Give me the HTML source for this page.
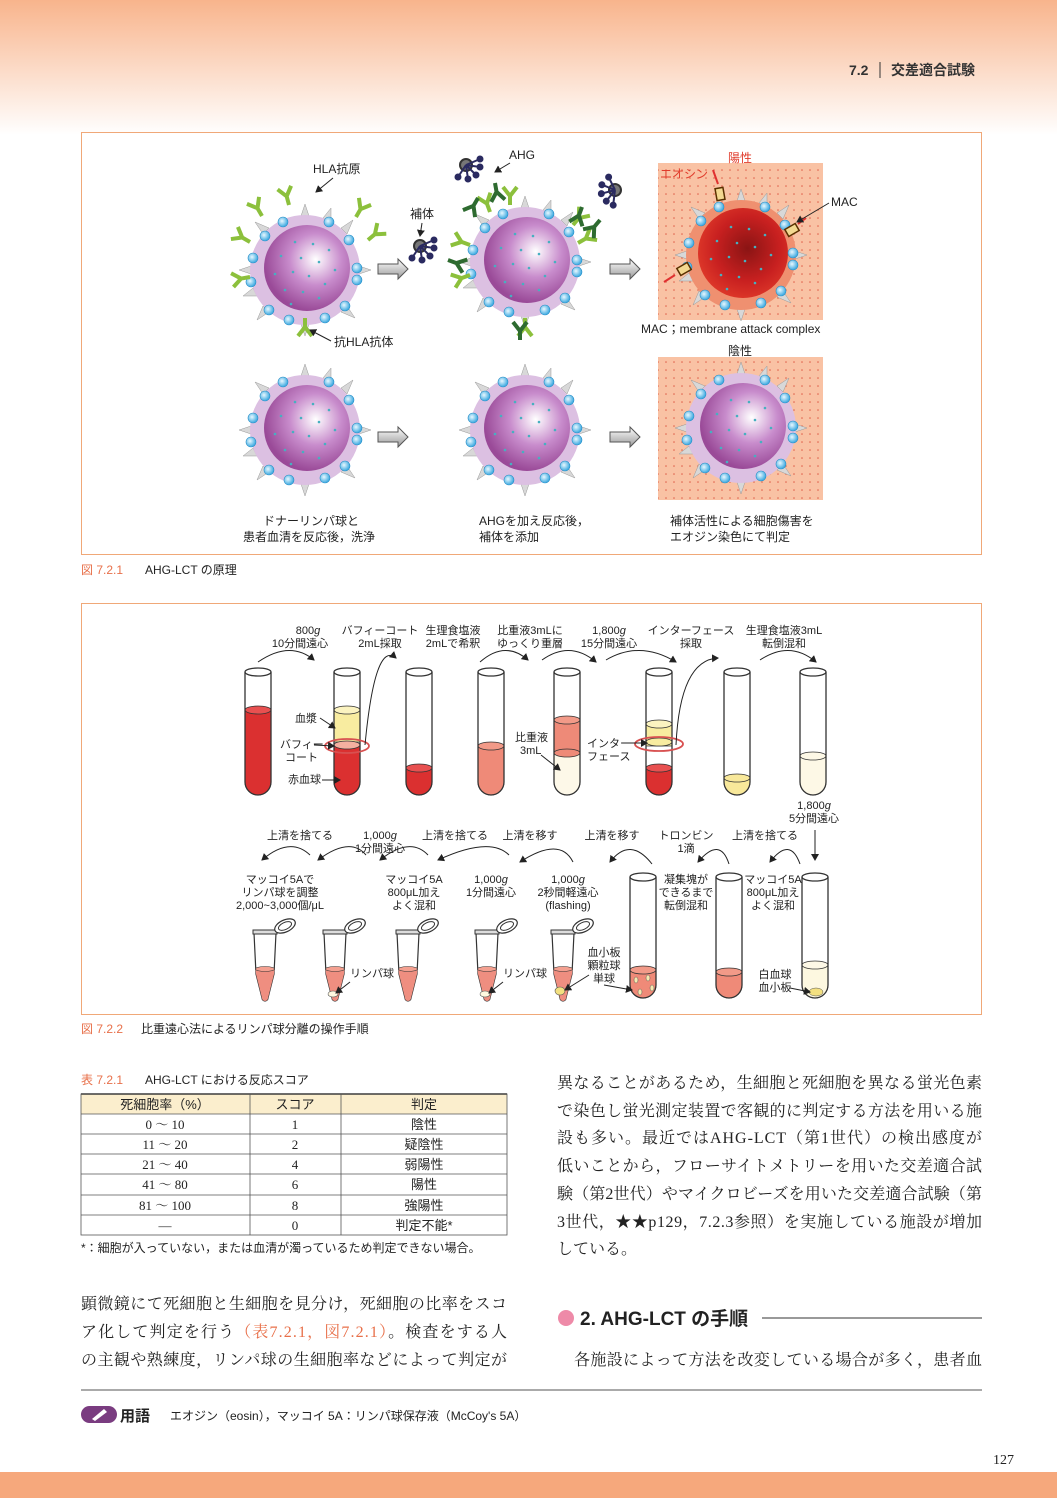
<!DOCTYPE html>
<html><head><meta charset="utf-8"><style>
html,body{margin:0;padding:0;background:#fff}
svg{display:block}
.s{font-family:"Liberation Sans","Noto Sans CJK JP",sans-serif}
.m{font-family:"Liberation Serif","Noto Serif CJK SC",serif}
</style></head><body>
<svg width="1057" height="1498" viewBox="0 0 1057 1498" xmlns="http://www.w3.org/2000/svg" class="s">
<defs>
<linearGradient id="hd" x1="0" y1="0" x2="0" y2="1">
<stop offset="0" stop-color="#f8b48c"/><stop offset="1" stop-color="#ffffff"/></linearGradient>
<radialGradient id="pb" cx="0.6" cy="0.4" r="0.6"><stop offset="0" stop-color="#ffffff"/><stop offset="0.5" stop-color="#c88ccc"/><stop offset="1" stop-color="#9a4a98"/></radialGradient>
<radialGradient id="rb" cx="0.55" cy="0.45" r="0.6"><stop offset="0" stop-color="#8a1414"/><stop offset="0.6" stop-color="#c82020"/><stop offset="1" stop-color="#e03a2a"/></radialGradient>
<radialGradient id="bd" cx="0.4" cy="0.4" r="0.6"><stop offset="0" stop-color="#e8f8ff"/><stop offset="1" stop-color="#3aa8e0"/></radialGradient>
<linearGradient id="ar" x1="0" y1="0" x2="0" y2="1"><stop offset="0" stop-color="#fff"/><stop offset="1" stop-color="#999"/></linearGradient>
<pattern id="dots" width="8" height="8" patternUnits="userSpaceOnUse"><rect width="8" height="8" fill="#f9c2a4"/><circle cx="2" cy="2" r="0.8" fill="#e0604a"/></pattern>
<g id="spk" fill="#d8d8d8" stroke="#999" stroke-width="0.5">
<polygon points="-4,-54 4,-54 0,-66"/><polygon points="-4,54 4,54 0,66"/>
<polygon points="54,-4 54,4 66,0"/><polygon points="-54,-4 -54,4 -66,0"/>
<polygon points="36,-42 42,-36 48,-50"/><polygon points="-36,42 -42,36 -48,50"/>
<polygon points="-36,-42 -42,-36 -50,-48"/><polygon points="36,42 42,36 50,48"/>
<polygon points="18,-52 26,-48 26,-62"/><polygon points="-52,18 -48,26 -62,26"/>
</g>
<g id="bds" fill="url(#bd)" stroke="#2a90c8" stroke-width="0.6">
<circle cx="-40" cy="-34" r="5"/><circle cx="-22" cy="-48" r="5"/><circle cx="24" cy="-48" r="5"/><circle cx="44" cy="-30" r="5"/>
<circle cx="-52" cy="-12" r="5"/><circle cx="-54" cy="12" r="5"/><circle cx="52" cy="10" r="5"/><circle cx="52" cy="-2" r="5"/>
<circle cx="-36" cy="40" r="5"/><circle cx="-16" cy="50" r="5"/><circle cx="20" cy="48" r="5"/><circle cx="40" cy="36" r="5"/>
</g>
<g id="idots" fill="#46b0c0">
<circle cx="-10" cy="-28" r="1.3"/><circle cx="8" cy="-26" r="1.3"/><circle cx="24" cy="-20" r="1.3"/><circle cx="-24" cy="-14" r="1.3"/><circle cx="-4" cy="-12" r="1.3"/><circle cx="14" cy="-8" r="1.3"/><circle cx="30" cy="0" r="1.3"/><circle cx="-30" cy="4" r="1.3"/><circle cx="-12" cy="2" r="1.3"/><circle cx="4" cy="6" r="1.3"/><circle cx="20" cy="14" r="1.3"/><circle cx="-20" cy="20" r="1.3"/><circle cx="-2" cy="22" r="1.3"/><circle cx="14" cy="28" r="1.3"/><circle cx="-14" cy="34" r="1.3"/>
</g>
<g id="cell"><use href="#spk"/><circle r="55" fill="#dcc0e2"/><circle cx="2" cy="-2" r="43" fill="url(#pb)"/><use href="#idots"/><use href="#bds"/></g>
<g id="rcell"><use href="#spk"/><circle r="55" fill="#ef9070"/><circle cx="2" cy="-2" r="45" fill="url(#rb)"/><use href="#idots" fill="#e8a0a0"/><use href="#bds"/></g>
<g id="Yl" stroke="#8cc03c" stroke-width="4" fill="none"><path d="M0,0 L0,-9 M0,-9 L-7,-18 M0,-9 L7,-18"/></g>
<g id="Yd" stroke="#2e6b30" stroke-width="4" fill="none"><path d="M0,0 L0,-9 M0,-9 L-7,-18 M0,-9 L7,-18"/></g>
<g id="cmp" stroke="#2a2a60" stroke-width="2" fill="#2a2a60"><circle r="6" fill="#777" stroke="#333"/><path d="M0,0 L14,-6 M0,0 L14,2 M0,0 L10,10 M0,0 L2,14 M0,0 L-8,12" fill="none"/><circle cx="14" cy="-6" r="2.5"/><circle cx="14" cy="2" r="2.5"/><circle cx="10" cy="10" r="2.5"/><circle cx="2" cy="14" r="2.5"/><circle cx="-8" cy="12" r="2.5"/></g>
<g id="bar"><path d="M0,-5 L20,-5 L20,-10 L30,0 L20,10 L20,5 L0,5 Z" fill="url(#ar)" stroke="#555" stroke-width="1"/></g>
<g id="tube" fill="none" stroke="#333" stroke-width="1.3"><path d="M-13,4 L-13,114 A13,13 0 0 0 13,114 L13,4"/><ellipse cx="0" cy="4" rx="13" ry="4"/></g>
<g id="btube" fill="none" stroke="#333" stroke-width="1.3"><path d="M-13,4 L-13,112 A13,13 0 0 0 13,112 L13,4"/><ellipse cx="0" cy="4" rx="13" ry="4"/></g>
<g id="ep"><path d="M-11,-1 L-9,40 L-3,64 A3,3 0 0 0 3,64 L9,40 L11,-1" fill="none" stroke="#333" stroke-width="1.2"/><path d="M-9.5,35 L-9,40 L-3,64 A3,3 0 0 0 3,64 L9,40 L9.5,35 Z" fill="#ef8e80"/><ellipse cx="0" cy="35" rx="9.5" ry="2.5" fill="#f4a090" stroke="#333" stroke-width="0.6"/><rect x="-12" y="-4" width="24" height="4" fill="#ddd" stroke="#333" stroke-width="1"/><ellipse cx="20" cy="-8" rx="11" ry="6" transform="rotate(-25 20 -8)" fill="#fff" stroke="#333" stroke-width="1.2"/><ellipse cx="20" cy="-8" rx="7" ry="3.5" transform="rotate(-25 20 -8)" fill="none" stroke="#333" stroke-width="1"/></g>
<marker id="ah" markerWidth="8" markerHeight="8" refX="6" refY="4" orient="auto" markerUnits="userSpaceOnUse"><path d="M0,0 L7,4 L0,8 Z" fill="#222"/></marker>
</defs>

<rect x="0" y="0" width="1057" height="135" fill="url(#hd)"/>
<text x="849" y="75" font-size="14" font-weight="bold" fill="#333">7.2</text>
<line x1="880" y1="62" x2="880" y2="78" stroke="#333" stroke-width="1"/>
<text x="891" y="75" font-size="14" font-weight="bold" fill="#333">交差適合試験</text>

<!-- Figure 1 -->
<rect x="81.5" y="132.5" width="900" height="422" fill="none" stroke="#f0a878" stroke-width="1"/>
<rect x="658" y="163" width="165" height="157" fill="url(#dots)"/>
<rect x="658" y="357" width="165" height="143" fill="url(#dots)"/>
<use href="#cell" x="305" y="270"/>
<use href="#cell" x="525" y="262"/>
<use href="#rcell" x="741" y="255"/>
<use href="#cell" x="305" y="430"/>
<use href="#cell" x="525" y="430"/>
<use href="#cell" x="741" y="428"/>
<use href="#Yl" x="289" y="205" transform="rotate(-15 289 205)"/>
<use href="#Yl" x="262" y="216" transform="rotate(-30 262 216)"/>
<use href="#Yl" x="356" y="217" transform="rotate(30 356 217)"/>
<use href="#Yl" x="368" y="240" transform="rotate(50 368 240)"/>
<use href="#Yl" x="250" y="242" transform="rotate(-60 250 242)"/>
<use href="#Yl" x="250" y="277" transform="rotate(-100 250 277)"/>
<use href="#Yl" x="305" y="318" transform="rotate(180 305 318)"/>
<use href="#Yl" x="490" y="212" transform="rotate(-20 490 212)"/>
<use href="#Yd" x="478" y="198" transform="rotate(-150 478 198)"/>
<use href="#Yl" x="510" y="205"/>
<use href="#Yd" x="495" y="183" transform="rotate(170 495 183)"/>
<use href="#Yl" x="573" y="225" transform="rotate(40 573 225)"/>
<use href="#Yd" x="582" y="207" transform="rotate(200 582 207)"/>
<use href="#Yl" x="578" y="243" transform="rotate(60 578 243)"/>
<use href="#Yd" x="600" y="220" transform="rotate(220 600 220)"/>
<use href="#Yl" x="470" y="245" transform="rotate(-70 470 245)"/>
<use href="#Yd" x="448" y="260" transform="rotate(110 448 260)"/>
<use href="#Yl" x="470" y="275" transform="rotate(-110 470 275)"/>
<use href="#Yl" x="525" y="318" transform="rotate(180 525 318)"/>
<use href="#Yd" x="520" y="340"/>
<use href="#cmp" x="466" y="165"/>
<use href="#cmp" x="615" y="190" transform="rotate(120 615 190)"/>
<use href="#cmp" x="420" y="246"/>
<g fill="#f3d890" stroke="#5a3000" stroke-width="1.5">
<rect x="716" y="188" width="8" height="12" transform="rotate(-10 720 194)"/>
<rect x="788" y="224" width="8" height="12" transform="rotate(60 792 230)"/>
<rect x="680" y="263" width="8" height="12" transform="rotate(60 684 269)"/>
</g>
<g stroke="#e03030" stroke-width="2" fill="#e03030">
<line x1="713" y1="170" x2="718" y2="184"/><line x1="806" y1="218" x2="798" y2="224"/><line x1="664" y1="282" x2="675" y2="275"/>
</g>
<line x1="829" y1="203" x2="797" y2="222" stroke="#222" stroke-width="1" marker-end="url(#ah)"/>
<text x="831" y="206" font-size="12" fill="#222">MAC</text>
<text x="660" y="178" font-size="12" fill="#e03a2a">エオシン</text>
<text x="728" y="162" font-size="12" fill="#e03a2a">陽性</text>
<text x="728" y="355" font-size="12" fill="#222">陰性</text>
<text x="641" y="333" font-size="12" fill="#222">MAC；membrane attack complex</text>
<use href="#bar" x="378" y="269"/><use href="#bar" x="610" y="269"/>
<use href="#bar" x="378" y="437"/><use href="#bar" x="610" y="437"/>
<text x="313" y="173" font-size="12" fill="#222">HLA抗原</text>
<line x1="333" y1="178" x2="316" y2="192" stroke="#222" stroke-width="1" marker-end="url(#ah)"/>
<text x="334" y="346" font-size="12" fill="#222">抗HLA抗体</text>
<line x1="331" y1="341" x2="310" y2="330" stroke="#222" stroke-width="1" marker-end="url(#ah)"/>
<text x="509" y="159" font-size="12" fill="#222">AHG</text>
<line x1="510" y1="163" x2="495" y2="172" stroke="#222" stroke-width="1" marker-end="url(#ah)"/>
<text x="410" y="218" font-size="12" fill="#222">補体</text>
<line x1="422" y1="223" x2="420" y2="236" stroke="#222" stroke-width="1" marker-end="url(#ah)"/>
<text x="263" y="525" font-size="12" fill="#222">ドナーリンパ球と</text>
<text x="243" y="541" font-size="12" fill="#222">患者血清を反応後，洗浄</text>
<text x="479" y="525" font-size="12" fill="#222">AHGを加え反応後，</text>
<text x="479" y="541" font-size="12" fill="#222">補体を添加</text>
<text x="670" y="525" font-size="12" fill="#222">補体活性による細胞傷害を</text>
<text x="670" y="541" font-size="12" fill="#222">エオジン染色にて判定</text>
<text x="81" y="574" font-size="12" fill="#e8704a">図 7.2.1</text>
<text x="145" y="574" font-size="12" fill="#222">AHG-LCT の原理</text>

<!-- Figure 2 -->
<rect x="81.5" y="603.5" width="900" height="411" fill="none" stroke="#f0a878" stroke-width="1"/>
<g font-size="11" fill="#222" text-anchor="middle">
<text x="308" y="634">800<tspan font-style="italic">g</tspan></text><text x="300" y="647">10分間遠心</text>
<text x="380" y="634">バフィーコート</text><text x="380" y="647">2mL採取</text>
<text x="453" y="634">生理食塩液</text><text x="453" y="647">2mLで希釈</text>
<text x="530" y="634">比重液3mLに</text><text x="530" y="647">ゆっくり重層</text>
<text x="609" y="634">1,800<tspan font-style="italic">g</tspan></text><text x="609" y="647">15分間遠心</text>
<text x="691" y="634">インターフェース</text><text x="691" y="647">採取</text>
<text x="784" y="634">生理食塩液3mL</text><text x="784" y="647">転倒混和</text>
<text x="814" y="809">1,800<tspan font-style="italic">g</tspan></text><text x="814" y="822">5分間遠心</text>
<text x="300" y="839">上清を捨てる</text>
<text x="380" y="839">1,000<tspan font-style="italic">g</tspan></text><text x="380" y="852">1分間遠心</text>
<text x="455" y="839">上清を捨てる</text>
<text x="530" y="839">上清を移す</text>
<text x="612" y="839">上清を移す</text>
<text x="686" y="839">トロンビン</text><text x="686" y="852">1滴</text>
<text x="765" y="839">上清を捨てる</text>
<text x="280" y="883">マッコイ5Aで</text><text x="280" y="896">リンパ球を調整</text><text x="280" y="909">2,000~3,000個/μL</text>
<text x="414" y="883">マッコイ5A</text><text x="414" y="896">800μL加え</text><text x="414" y="909">よく混和</text>
<text x="491" y="883">1,000<tspan font-style="italic">g</tspan></text><text x="491" y="896">1分間遠心</text>
<text x="568" y="883">1,000<tspan font-style="italic">g</tspan></text><text x="568" y="896">2秒間軽遠心</text><text x="568" y="909">(flashing)</text>
<text x="686" y="883">凝集塊が</text><text x="686" y="896">できるまで</text><text x="686" y="909">転倒混和</text>
<text x="773" y="883">マッコイ5A</text><text x="773" y="896">800μL加え</text><text x="773" y="909">よく混和</text>
<text x="604" y="956">血小板</text><text x="604" y="969">顆粒球</text><text x="604" y="982">単球</text>
<text x="775" y="978">白血球</text><text x="775" y="991">血小板</text>
</g>
<g font-size="11" fill="#222">
<text x="295" y="722">血漿</text><text x="280" y="748">バフィー</text><text x="285" y="761">コート</text><text x="288" y="783">赤血球</text>
<text x="515" y="741">比重液</text><text x="520" y="754">3mL</text>
<text x="587" y="747">インター</text><text x="587" y="760">フェース</text>
<text x="350" y="977">リンパ球</text><text x="503" y="977">リンパ球</text>
</g>
<g stroke="#333" stroke-width="0.8">
<path d="M245,710 L245,782 A13,13 0 0 0 271,782 L271,710 Z" fill="#db3030"/><ellipse cx="258" cy="710" rx="13" ry="4" fill="#e85050"/>
<path d="M334,710 L334,742 L360,742 L360,710 Z" fill="#f8eca0"/><ellipse cx="347" cy="710" rx="13" ry="4" fill="#fbf3c0"/>
<path d="M334,746 L334,782 A13,13 0 0 0 360,782 L360,746 Z" fill="#db3030"/><ellipse cx="347" cy="745" rx="13" ry="4" fill="#f4b0a0"/>
<path d="M406,768 L406,782 A13,13 0 0 0 432,782 L432,768 Z" fill="#db3030"/><ellipse cx="419" cy="768" rx="13" ry="4" fill="#e85050"/>
<path d="M478,746 L478,782 A13,13 0 0 0 504,782 L504,746 Z" fill="#ef8a78"/><ellipse cx="491" cy="746" rx="13" ry="4" fill="#f29a88"/>
<path d="M554,753 L554,782 A13,13 0 0 0 580,782 L580,753 Z" fill="#fdf8e8"/>
<path d="M554,720 L554,753 L580,753 L580,720 Z" fill="#ee8a78"/><ellipse cx="567" cy="720" rx="13" ry="4" fill="#f29a88"/><ellipse cx="567" cy="753" rx="13" ry="4" fill="#ee8a78"/>
<path d="M646,724 L646,746 L672,746 L672,724 Z" fill="#f8eca0"/><ellipse cx="659" cy="724" rx="13" ry="4" fill="#fbf3c0"/><ellipse cx="659" cy="742" rx="13" ry="4" fill="#f8eca0"/>
<path d="M646,768 L646,782 A13,13 0 0 0 672,782 L672,768 Z" fill="#db3030"/><ellipse cx="659" cy="768" rx="13" ry="4" fill="#e85050"/>
<path d="M724,778 L724,782 A13,13 0 0 0 750,782 L750,778 Z" fill="#f8e89a"/><ellipse cx="737" cy="778" rx="13" ry="4" fill="#f8e89a"/>
<path d="M800,756 L800,782 A13,13 0 0 0 826,782 L826,756 Z" fill="#fdf8e6"/><ellipse cx="813" cy="756" rx="13" ry="4" fill="#fdf8e6"/>
</g>
<use href="#tube" x="258" y="668"/><use href="#tube" x="347" y="668"/><use href="#tube" x="419" y="668"/><use href="#tube" x="491" y="668"/>
<use href="#tube" x="567" y="668"/><use href="#tube" x="659" y="668"/><use href="#tube" x="737" y="668"/><use href="#tube" x="813" y="668"/>
<ellipse cx="347" cy="746" rx="22" ry="7" fill="none" stroke="#d85050" stroke-width="1.8"/>
<ellipse cx="659" cy="744" rx="24" ry="7" fill="none" stroke="#d85050" stroke-width="1.8"/>
<g stroke="#333" stroke-width="0.8">
<path d="M630,970 L630,985 A13,13 0 0 0 656,985 L656,970 Z" fill="#ef8a78"/><ellipse cx="643" cy="970" rx="13" ry="4" fill="#f29a88"/>
<path d="M716,972 L716,985 A13,13 0 0 0 742,985 L742,972 Z" fill="#ef8a78"/><ellipse cx="729" cy="972" rx="13" ry="4" fill="#f29a88"/>
<path d="M802,965 L802,985 A13,13 0 0 0 828,985 L828,965 Z" fill="#fdf8e0"/><ellipse cx="815" cy="965" rx="13" ry="4" fill="#fdf8e6"/>
</g>
<g fill="#f8e8b0" stroke="#555" stroke-width="0.5"><ellipse cx="636" cy="980" rx="2" ry="3"/><ellipse cx="648" cy="978" rx="2" ry="3"/><ellipse cx="640" cy="992" rx="2" ry="3"/><ellipse cx="652" cy="988" rx="2" ry="3"/><ellipse cx="816" cy="992" rx="7" ry="4" fill="#f3e080"/></g>
<use href="#btube" x="643" y="873"/><use href="#btube" x="729" y="873"/><use href="#btube" x="815" y="873"/>
<use href="#ep" x="265" y="934"/><use href="#ep" x="335" y="934"/><use href="#ep" x="408" y="934"/><use href="#ep" x="487" y="934"/><use href="#ep" x="563" y="934"/>
<g fill="#fff8e0" stroke="#555" stroke-width="0.6"><ellipse cx="333" cy="994" rx="5" ry="3"/><ellipse cx="485" cy="994" rx="5" ry="3"/><ellipse cx="560" cy="991" rx="5" ry="4" fill="#f3e080"/></g>
<g fill="none" stroke="#222" stroke-width="1" marker-end="url(#ah)">
<path d="M258,662 Q290,640 314,660"/><path d="M365,745 Q375,640 396,658"/>
<path d="M480,662 Q505,640 528,660"/><path d="M542,660 Q570,640 596,662"/><path d="M606,660 Q640,640 676,662"/>
<path d="M676,745 Q680,660 718,658"/><path d="M760,660 Q790,640 816,662"/>
<line x1="815" y1="830" x2="815" y2="860"/>
<path d="M310,855 Q290,836 262,860"/><path d="M366,855 Q350,836 318,860"/><path d="M428,855 Q410,836 380,860"/><path d="M509,855 Q490,836 438,860"/>
<path d="M573,862 Q560,836 520,862" /><path d="M652,864 Q630,836 610,862"/><path d="M729,864 Q720,836 698,862"/><path d="M800,864 Q790,836 770,862"/>
<line x1="320" y1="718" x2="335" y2="728"/><line x1="314" y1="745" x2="334" y2="746"/><line x1="322" y1="780" x2="340" y2="780"/>
<line x1="541" y1="755" x2="560" y2="770"/><line x1="625" y1="743" x2="647" y2="743"/>
<line x1="350" y1="982" x2="336" y2="993"/><line x1="503" y1="982" x2="489" y2="993"/><line x1="589" y1="975" x2="565" y2="990"/>
<line x1="604" y1="985" x2="632" y2="990"/><line x1="790" y1="988" x2="810" y2="992"/>
</g>
<text x="81" y="1033" font-size="12" fill="#e8704a">図 7.2.2</text>
<text x="141" y="1033" font-size="12" fill="#222">比重遠心法によるリンパ球分離の操作手順</text>

<text x="81" y="1084" font-size="12" fill="#e8704a">表 7.2.1</text>
<text x="145" y="1084" font-size="12" fill="#222">AHG-LCT における反応スコア</text>
<rect x="81" y="1094" width="426" height="20" fill="#fbeecd"/>
<line x1="81" y1="1094" x2="507" y2="1094" stroke="#222" stroke-width="1.5"/>
<g stroke="#555" stroke-width="0.8" fill="none">
<rect x="81" y="1094" width="426" height="141"/>
<line x1="81" y1="1114" x2="507" y2="1114"/><line x1="81" y1="1134" x2="507" y2="1134"/><line x1="81" y1="1154" x2="507" y2="1154"/><line x1="81" y1="1174" x2="507" y2="1174"/><line x1="81" y1="1195" x2="507" y2="1195"/><line x1="81" y1="1215" x2="507" y2="1215"/>
<line x1="250" y1="1094" x2="250" y2="1235"/><line x1="341" y1="1094" x2="341" y2="1235"/>
</g>
<g font-size="13" fill="#222" text-anchor="middle">
<text x="165" y="1109">死細胞率（%）</text><text x="295" y="1109">スコア</text><text x="424" y="1109">判定</text>
<g class="m"><text x="165" y="1129">0 ～ 10</text><text x="165" y="1149">11 ～ 20</text><text x="165" y="1169">21 ～ 40</text><text x="165" y="1189">41 ～ 80</text><text x="165" y="1210">81 ～ 100</text><text x="165" y="1230">—</text>
<text x="295" y="1129">1</text><text x="295" y="1149">2</text><text x="295" y="1169">4</text><text x="295" y="1189">6</text><text x="295" y="1210">8</text><text x="295" y="1230">0</text></g>
<text x="424" y="1129">陰性</text><text x="424" y="1149">疑陰性</text><text x="424" y="1169">弱陽性</text><text x="424" y="1189">陽性</text><text x="424" y="1210">強陽性</text><text x="424" y="1230">判定不能*</text>
</g>
<text x="81" y="1252" font-size="12" fill="#222">*：細胞が入っていない，または血清が濁っているため判定できない場合。</text>

<g class="m" font-size="16" fill="#222">
<text x="81" y="1309" textLength="426" lengthAdjust="spacing">顕微鏡にて死細胞と生細胞を見分け，死細胞の比率をスコ</text>
<text x="81" y="1337" textLength="426" lengthAdjust="spacing">ア化して判定を行う<tspan fill="#e8704a">（表7.2.1，図7.2.1）</tspan>。検査をする人</text>
<text x="81" y="1365" textLength="426" lengthAdjust="spacing">の主観や熟練度，リンパ球の生細胞率などによって判定が</text>
<text x="557" y="1088" textLength="425" lengthAdjust="spacing">異なることがあるため，生細胞と死細胞を異なる蛍光色素</text>
<text x="557" y="1116" textLength="425" lengthAdjust="spacing">で染色し蛍光測定装置で客観的に判定する方法を用いる施</text>
<text x="557" y="1143" textLength="425" lengthAdjust="spacing">設も多い。最近ではAHG-LCT（第1世代）の検出感度が</text>
<text x="557" y="1171" textLength="425" lengthAdjust="spacing">低いことから，フローサイトメトリーを用いた交差適合試</text>
<text x="557" y="1199" textLength="425" lengthAdjust="spacing">験（第2世代）やマイクロビーズを用いた交差適合試験（第</text>
<text x="557" y="1227" textLength="425" lengthAdjust="spacing">3世代，★★p129，7.2.3参照）を実施している施設が増加</text>
<text x="557" y="1254">している。</text>
<text x="574" y="1365" textLength="408" lengthAdjust="spacing">各施設によって方法を改変している場合が多く，患者血</text>
</g>
<circle cx="566" cy="1318" r="8" fill="#ee8aa8"/>
<text x="580" y="1325" font-size="19" font-weight="bold" fill="#222">2. AHG-LCT の手順</text>
<line x1="762" y1="1318" x2="982" y2="1318" stroke="#333" stroke-width="1"/>
<line x1="81" y1="1390" x2="982" y2="1390" stroke="#555" stroke-width="1"/>
<rect x="81" y="1406" width="36" height="17" rx="8.5" fill="#7a3c80"/>
<path d="M92,1419 L104,1409 L107,1412 L95,1421 Z" fill="#fff"/>
<text x="120" y="1421" font-size="15" font-weight="bold" fill="#222">用語</text>
<text x="170" y="1420" font-size="12" fill="#222">エオジン（eosin），マッコイ 5A：リンパ球保存液（McCoy's 5A）</text>
<text x="993" y="1464" font-size="14" class="m" fill="#222">127</text>
<rect x="0" y="1472" width="1057" height="26" fill="#f6a87c"/>
</svg>
</body></html>
